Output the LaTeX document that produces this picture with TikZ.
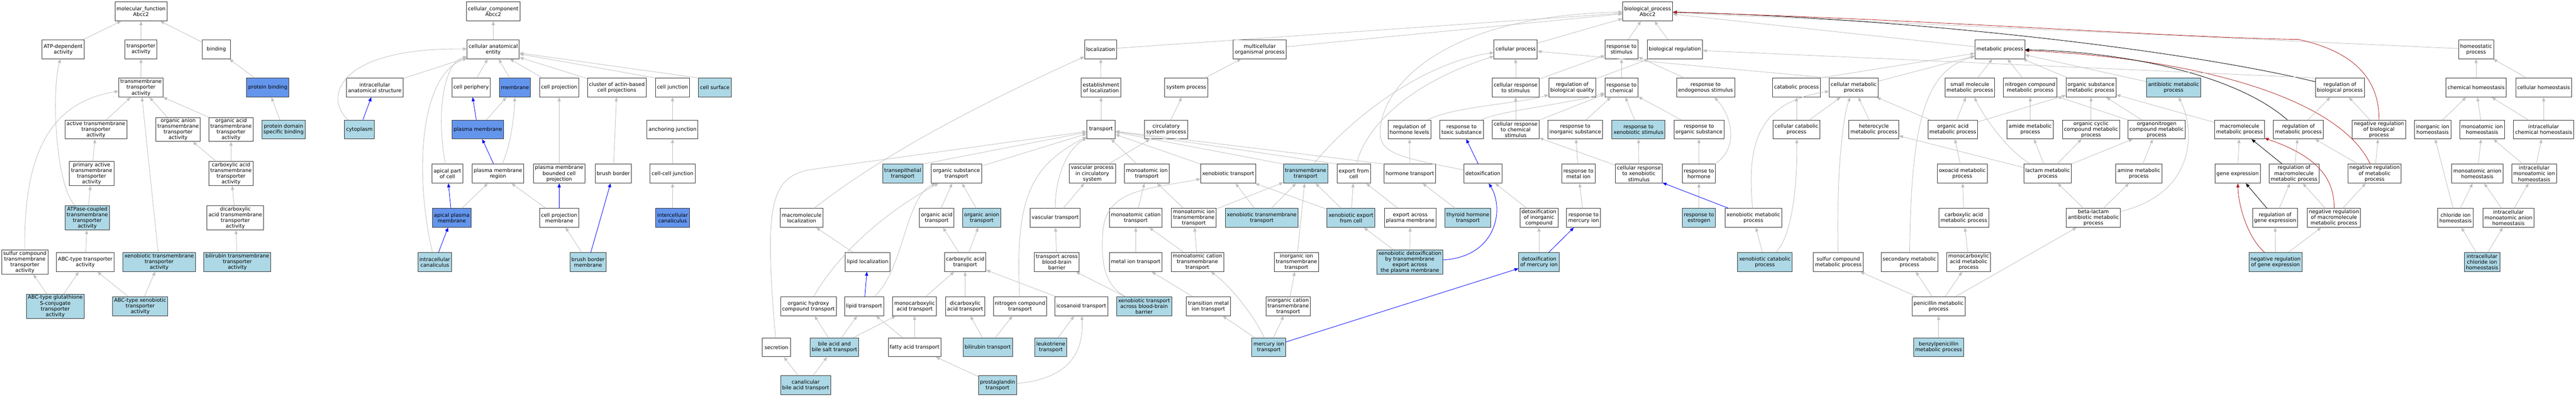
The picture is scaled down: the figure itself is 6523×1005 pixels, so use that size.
\documentclass[tikz,border=0pt]{standalone}
\usepackage{fontspec}
\setmainfont{DejaVu Sans}
\usepackage{xcolor}
\usepackage{tikz}
\usetikzlibrary{arrows.meta}
\definecolor{HitBlue}{HTML}{ADD8E6}
\definecolor{CornBlue}{HTML}{6495ED}
\definecolor{EdgeGray}{HTML}{C0C0C0}
\definecolor{FireRed}{HTML}{B22222}

\begin{document}
\begin{tikzpicture}
  [
    x=1pt, y=-1pt,
    >={Triangle[length=10pt, width=8pt]},
    Term/.style={rectangle, draw=black!80, fill=white, line width=1.2pt, minimum width=72pt, minimum height=48pt, inner xsep=4pt, inner ysep=2.5pt, align=center, font=\fontsize{13}{14.5}\selectfont},
    Hit/.style={Term, fill=HitBlue},
    Strong/.style={Term, fill=CornBlue},
    IsA/.style={->, draw=EdgeGray, line width=1.1pt},
    PartOf/.style={->, draw=blue, line width=1.1pt},
    Reg/.style={->, draw=black, line width=1.1pt},
    NegReg/.style={->, draw=FireRed, line width=1.1pt}
  ]
  \path[use as bounding box, fill=white] (0,0) rectangle (6523,1005);
  % Nodes: molecular function
  \node[Term] (mf) at (357,29) {molecular\_function\\Abcc2};
  \node[Term] (atpdep) at (160,125) {ATP-dependent\\activity};
  \node[Term] (transact) at (357,125) {transporter\\activity};
  \node[Term] (binding) at (548,125) {binding};
  \node[Term] (tmtrans) at (357,222) {transmembrane\\transporter\\activity};
  \node[Strong] (protbind) at (678,222) {protein binding};
  \node[Term] (activetm) at (243,328) {active transmembrane\\transporter\\activity};
  \node[Term] (organion) at (451,328) {organic anion\\transmembrane\\transporter\\activity};
  \node[Term] (orgacid) at (585,328) {organic acid\\transmembrane\\transporter\\activity};
  \node[Hit] (protdom) at (718,328) {protein domain\\specific binding};
  \node[Term] (primact) at (232,440) {primary active\\transmembrane\\transporter\\activity};
  \node[Term] (carbacid) at (585,440) {carboxylic acid\\transmembrane\\transporter\\activity};
  \node[Hit] (atpase) at (221,552) {ATPase-coupled\\transmembrane\\transporter\\activity};
  \node[Term] (dicarb) at (596,552) {dicarboxylic\\acid transmembrane\\transporter\\activity};
  \node[Term] (sulfurtm) at (63,664) {sulfur compound\\transmembrane\\transporter\\activity};
  \node[Term] (abctype) at (216,664) {ABC-type transporter\\activity};
  \node[Hit] (xenotm) at (403,664) {xenobiotic transmembrane\\transporter\\activity};
  \node[Hit] (bilitm) at (601,664) {bilirubin transmembrane\\transporter\\activity};
  \node[Hit] (abcglut) at (140,776) {ABC-type glutathione\\S-conjugate\\transporter\\activity};
  \node[Hit] (abcxeno) at (355,776) {ABC-type xenobiotic\\transporter\\activity};
  % Nodes: cellular component
  \node[Term] (cc) at (1249,29) {cellular\_component\\Abcc2};
  \node[Term] (cae) at (1249,125) {cellular anatomical\\entity};
  \node[Term] (ias) at (949,222) {intracellular\\anatomical structure};
  \node[Term] (cellperiph) at (1193,222) {cell periphery};
  \node[Strong] (membrane) at (1304,222) {membrane};
  \node[Term] (cellproj) at (1416,222) {cell projection};
  \node[Term] (cluster) at (1562,222) {cluster of actin-based\\cell projections};
  \node[Term] (celljunc) at (1703,222) {cell junction};
  \node[Hit] (cellsurf) at (1810,222) {cell surface};
  \node[Hit] (cytoplasm) at (910,328) {cytoplasm};
  \node[Strong] (plasmamem) at (1210,328) {plasma membrane};
  \node[Term] (anchjunc) at (1703,328) {anchoring junction};
  \node[Term] (apicalpart) at (1133,440) {apical part\\of cell};
  \node[Term] (pmregion) at (1261,440) {plasma membrane\\region};
  \node[Term] (pmbcp) at (1416,440) {plasma membrane\\bounded cell\\projection};
  \node[Term] (brushborder) at (1553,440) {brush border};
  \node[Term] (ccjunc) at (1703,440) {cell-cell junction};
  \node[Strong] (apicalpm) at (1144,552) {apical plasma\\membrane};
  \node[Term] (cpmem) at (1416,552) {cell projection\\membrane};
  \node[Strong] (intercan) at (1703,552) {intercellular\\canaliculus};
  \node[Hit] (intracan) at (1101,664) {intracellular\\canaliculus};
  \node[Hit] (bbmem) at (1489,664) {brush border\\membrane};
  % Nodes: biological process, rows 1-2
  \node[Term] (bp) at (4172,29) {biological\_process\\Abcc2};
  \node[Term] (localization) at (2787,125) {localization};
  \node[Term] (multicell) at (3190,125) {multicellular\\organismal process};
  \node[Term] (cellproc) at (3838,125) {cellular process};
  \node[Term] (respstim) at (4106,125) {response to\\stimulus};
  \node[Term] (bioreg) at (4241,125) {biological regulation};
  \node[Term] (metproc) at (5064,125) {metabolic process};
  \node[Term] (homeo) at (6270,125) {homeostatic\\process};
  \node[Term] (estloc) at (2788,222) {establishment\\of localization};
  \node[Term] (sysproc) at (3004,222) {system process};
  \node[Term] (cellrespstim) at (3838,222) {cellular response\\to stimulus};
  \node[Term] (regbioqual) at (3981,222) {regulation of\\biological quality};
  \node[Term] (respchem) at (4106,222) {response to\\chemical};
  \node[Term] (respendo) at (4319,222) {response to\\endogenous stimulus};
  \node[Term] (catab) at (4549,222) {catabolic process};
  \node[Term] (cellmet) at (4694,222) {cellular metabolic\\process};
  \node[Term] (smallmol) at (4988,222) {small molecule\\metabolic process};
  \node[Term] (nitrocmet) at (5141,222) {nitrogen compound\\metabolic process};
  \node[Term] (orgsubmet) at (5295,222) {organic substance\\metabolic process};
  \node[Hit] (antibmet) at (5504,222) {antibiotic metabolic\\process};
  \node[Term] (regbioproc) at (5925,222) {regulation of\\biological process};
  \node[Term] (chemhomeo) at (6270,222) {chemical homeostasis};
  \node[Term] (cellhomeo) at (6441,222) {cellular homeostasis};
  % Nodes: row 3
  \node[Term] (transport) at (2788,328) {transport};
  \node[Term] (circsys) at (2953,328) {circulatory\\system process};
  \node[Term] (reghormone) at (3569,328) {regulation of\\hormone levels};
  \node[Term] (resptoxic) at (3701,328) {response to\\toxic substance};
  \node[Term] (cellrespchem) at (3838,328) {cellular response\\to chemical\\stimulus};
  \node[Term] (respinorg) at (3989,328) {response to\\inorganic substance};
  \node[Hit] (respxeno) at (4149,328) {response to\\xenobiotic stimulus};
  \node[Term] (resporg) at (4302,328) {response to\\organic substance};
  \node[Term] (cellcatab) at (4549,328) {cellular catabolic\\process};
  \node[Term] (heterometh) at (4745,328) {heterocycle\\metabolic process};
  \node[Term] (orgacidmet) at (4945,328) {organic acid\\metabolic process};
  \node[Term] (amidemet) at (5141,328) {amide metabolic\\process};
  \node[Term] (orgcycmet) at (5295,328) {organic cyclic\\compound metabolic\\process};
  \node[Term] (organonit) at (5461,328) {organonitrogen\\compound metabolic\\process};
  \node[Term] (macromet) at (5671,328) {macromolecule\\metabolic process};
  \node[Term] (regmet) at (5820,328) {regulation of\\metabolic process};
  \node[Term] (negregbio) at (6024,328) {negative regulation\\of biological\\process};
  \node[Term] (inorghomeo) at (6160,328) {inorganic ion\\homeostasis};
  \node[Term] (monoionhomeo) at (6285,328) {monoatomic ion\\homeostasis};
  \node[Term] (intrachemhomeo) at (6441,328) {intracellular\\chemical homeostasis};
  % Nodes: row 4
  \node[Hit] (transepi) at (2286,440) {transepithelial\\transport};
  \node[Term] (orgsubtr) at (2422,440) {organic substance\\transport};
  \node[Term] (vascproc) at (2766,440) {vascular process\\in circulatory\\system};
  \node[Term] (monoiontr) at (2904,440) {monoatomic ion\\transport};
  \node[Term] (xenotr) at (3110,440) {xenobiotic transport};
  \node[Hit] (tmtransport) at (3306,440) {transmembrane\\transport};
  \node[Term] (exportcell) at (3428,440) {export from\\cell};
  \node[Term] (hormonetr) at (3570,440) {hormone transport};
  \node[Term] (detox) at (3755,440) {detoxification};
  \node[Term] (respmetal) at (3997,440) {response to\\metal ion};
  \node[Term] (cellrespxeno) at (4150,440) {cellular response\\to xenobiotic\\stimulus};
  \node[Term] (resphormone) at (4302,440) {response to\\hormone};
  \node[Term] (oxoacid) at (4969,440) {oxoacid metabolic\\process};
  \node[Term] (lactam) at (5185,440) {lactam metabolic\\process};
  \node[Term] (aminemet) at (5416,440) {amine metabolic\\process};
  \node[Term] (geneexp) at (5666,440) {gene expression};
  \node[Term] (regmacro) at (5809,440) {regulation of\\macromolecule\\metabolic process};
  \node[Term] (negregmet) at (6013,440) {negative regulation\\of metabolic\\process};
  \node[Term] (monoanhomeo) at (6273,440) {monoatomic anion\\homeostasis};
  \node[Term] (intramonoion) at (6417,440) {intracellular\\monoatomic ion\\homeostasis};
  % Nodes: row 5
  \node[Term] (macroloc) at (2030,552) {macromolecule\\localization};
  \node[Term] (orgacidtr) at (2372,552) {organic acid\\transport};
  \node[Hit] (organiontr) at (2486,552) {organic anion\\transport};
  \node[Term] (vasctr) at (2672,552) {vascular transport};
  \node[Term] (monocattr) at (2876,552) {monoatomic cation\\transport};
  \node[Term] (monoiontm) at (3023,552) {monoatomic ion\\transmembrane\\transport};
  \node[Hit] (xenotmtr) at (3195,552) {xenobiotic transmembrane\\transport};
  \node[Hit] (xenoexport) at (3421,552) {xenobiotic export\\from cell};
  \node[Term] (exportpm) at (3571,552) {export across\\plasma membrane};
  \node[Hit] (thyroid) at (3717,552) {thyroid hormone\\transport};
  \node[Term] (detoxinorg) at (3897,552) {detoxification\\of inorganic\\compound};
  \node[Term] (respmercury) at (4010,552) {response to\\mercury ion};
  \node[Hit] (respestrogen) at (4302,552) {response to\\estrogen};
  \node[Term] (xenomet) at (4440,552) {xenobiotic metabolic\\process};
  \node[Term] (carbacidmet) at (4973,552) {carboxylic acid\\metabolic process};
  \node[Term] (betalactam) at (5301,552) {beta-lactam\\antibiotic metabolic\\process};
  \node[Term] (reggene) at (5761,552) {regulation of\\gene expression};
  \node[Term] (negregmacro) at (5910,552) {negative regulation\\of macromolecule\\metabolic process};
  \node[Term] (chloride) at (6218,552) {chloride ion\\homeostasis};
  \node[Term] (intramonoan) at (6352,552) {intracellular\\monoatomic anion\\homeostasis};
  % Nodes: row 6
  \node[Term] (lipidloc) at (2197,664) {lipid localization};
  \node[Term] (carbacidtr) at (2444,664) {carboxylic acid\\transport};
  \node[Term] (bbbtr) at (2676,664) {transport across\\blood-brain\\barrier};
  \node[Term] (metaliontr) at (2876,664) {metal ion transport};
  \node[Term] (monocattm) at (3032,664) {monoatomic cation\\transmembrane\\transport};
  \node[Term] (inorgiontm) at (3283,664) {inorganic ion\\transmembrane\\transport};
  \node[Hit] (xenodetox) at (3570,664) {xenobiotic detoxification\\by transmembrane\\export across\\the plasma membrane};
  \node[Hit] (detoxmercury) at (3897,664) {detoxification\\of mercury ion};
  \node[Hit] (xenocatab) at (4469,664) {xenobiotic catabolic\\process};
  \node[Term] (sulfurmet) at (4655,664) {sulfur compound\\metabolic process};
  \node[Term] (secondmet) at (4835,664) {secondary metabolic\\process};
  \node[Term] (monocarbmet) at (4985,664) {monocarboxylic\\acid metabolic\\process};
  \node[Hit] (negreggene) at (5762,664) {negative regulation\\of gene expression};
  \node[Hit] (intrachloride) at (6285,664) {intracellular\\chloride ion\\homeostasis};
  % Nodes: rows 7-9
  \node[Term] (orghydroxy) at (2047,776) {organic hydroxy\\compound transport};
  \node[Term] (lipidtr) at (2188,776) {lipid transport};
  \node[Term] (monocarbtr) at (2316,776) {monocarboxylic\\acid transport};
  \node[Term] (dicarbtr) at (2444,776) {dicarboxylic\\acid transport};
  \node[Term] (nitrocomptr) at (2583,776) {nitrogen compound\\transport};
  \node[Term] (icosanoid) at (2738,776) {icosanoid transport};
  \node[Hit] (xenobbb) at (2897,776) {xenobiotic transport\\across blood-brain\\barrier};
  \node[Term] (transmetal) at (3060,776) {transition metal\\ion transport};
  \node[Term] (inorgcattm) at (3262,776) {inorganic cation\\transmembrane\\transport};
  \node[Term] (penicillin) at (4909,776) {penicillin metabolic\\process};
  \node[Term] (secretion) at (1966,880) {secretion};
  \node[Hit] (bileacid) at (2113,880) {bile acid and\\bile salt transport};
  \node[Term] (fattyacid) at (2316,880) {fatty acid transport};
  \node[Hit] (bilirubintr) at (2501,880) {bilirubin transport};
  \node[Hit] (leukotriene) at (2661,880) {leukotriene\\transport};
  \node[Hit] (mercurytr) at (3213,880) {mercury ion\\transport};
  \node[Hit] (benzylpen) at (4909,880) {benzylpenicillin\\metabolic process};
  \node[Hit] (canalicular) at (2040,976) {canalicular\\bile acid transport};
  \node[Hit] (prostaglandin) at (2526,976) {prostaglandin\\transport};
  % Lines: molecular function
  \path[IsA] (atpdep) -- (mf);
  \path[IsA] (transact) -- (mf);
  \path[IsA] (binding) -- (mf);
  \path[IsA] (tmtrans) -- (transact);
  \path[IsA] (activetm) -- (tmtrans);
  \path[IsA] (organion) -- (tmtrans);
  \path[IsA] (orgacid.north west) -- (tmtrans);
  \path[IsA] (xenotm) -- (tmtrans);
  \path[IsA] (sulfurtm) .. controls (60,400) and (120,260) .. (tmtrans);
  \path[IsA] (primact) -- (activetm);
  \path[IsA] (atpase) -- (primact);
  \path[IsA] (atpase) .. controls (140,470) and (130,230) .. (atpdep);
  \path[IsA] (abctype) -- (atpase);
  \path[IsA] (carbacid) -- (organion);
  \path[IsA] (carbacid) -- (orgacid);
  \path[IsA] (dicarb) -- (carbacid);
  \path[IsA] (bilitm) -- (dicarb);
  \path[IsA] (abcglut) -- (sulfurtm);
  \path[IsA] (abcglut) -- (abctype);
  \path[IsA] (abcxeno) -- (abctype);
  \path[IsA] (abcxeno) -- (xenotm);
  \path[IsA] (protbind) -- (binding);
  \path[IsA] (protdom) -- (protbind);
  % Lines: cellular component
  \path[IsA] (cae) -- (cc);
  \path[IsA] (ias) -- (cae);
  \path[PartOf] (cytoplasm) -- (ias);
  \path[IsA] (cytoplasm) .. controls (820,250) and (850,120) .. (cae);
  \path[IsA] (intracan) .. controls (1050,450) and (1060,190) .. (cae);
  \path[PartOf] (intracan) -- (apicalpm);
  \path[IsA] (cellperiph) -- (cae);
  \path[IsA] (membrane) -- (cae);
  \path[IsA] (cellproj) -- (cae);
  \path[IsA] (cluster) -- (cae);
  \path[IsA] (celljunc.north west) -- (cae);
  \path[IsA] (cellsurf.north west) -- (cae);
  \path[PartOf] (plasmamem) -- (cellperiph);
  \path[IsA] (plasmamem) -- (membrane);
  \path[PartOf] (pmregion) -- (plasmamem);
  \path[IsA] (pmregion) .. controls (1292,370) and (1302,300) .. (membrane);
  \path[IsA] (apicalpart) .. controls (1105,300) and (1120,160) .. (cae);
  \path[PartOf] (apicalpm) -- (apicalpart);
  \path[IsA] (apicalpm) -- (pmregion);
  \path[IsA] (pmbcp) -- (cellproj);
  \path[PartOf] (cpmem) -- (pmbcp);
  \path[IsA] (cpmem) -- (pmregion);
  \path[IsA] (brushborder) -- (cluster);
  \path[IsA] (bbmem) -- (cpmem);
  \path[PartOf] (bbmem) -- (brushborder);
  \path[IsA] (anchjunc) -- (celljunc);
  \path[IsA] (ccjunc) -- (anchjunc);
  \path[IsA] (intercan) -- (ccjunc);
  % Lines: biological process
  \path[IsA] (localization) -- (bp);
  \path[IsA] (multicell) -- (bp);
  \path[IsA] (cellproc) -- (bp);
  \path[IsA] (respstim) -- (bp);
  \path[IsA] (bioreg) -- (bp);
  \path[IsA] (metproc) -- (bp);
  \path[IsA] (homeo) -- (bp);
  \path[Reg] (regbioproc) .. controls (5500,120) and (4800,45) .. (bp);
  \path[NegReg] (negregbio) .. controls (6025,200) and (5960,130) .. (5820,100) .. controls (5500,95) and (4900,50) .. (bp);
  \path[IsA] (detox) .. controls (3550,400) and (3490,390) .. (3495,330) .. controls (3500,220) and (3650,40) .. (bp);
  \path[IsA] (estloc) -- (localization);
  \path[IsA] (transport) -- (estloc);
  \path[IsA] (macroloc) .. controls (2200,420) and (2400,300) .. (localization);
  \path[IsA] (lipidloc) -- (macroloc);
  \path[PartOf] (lipidtr) -- (lipidloc);
  \path[IsA] (secretion) .. controls (1935,520) and (1950,450) .. (2050,430) -- (transport);
  \path[IsA] (transepi.north east) -- (transport);
  \path[IsA] (orgsubtr) -- (transport);
  \path[IsA] (nitrocomptr) .. controls (2570,500) and (2610,420) .. (transport);
  \path[IsA] (vasctr) .. controls (2672,450) and (2700,380) .. (transport);
  \path[IsA] (monoiontr) -- (transport);
  \path[IsA] (xenotr) -- (transport);
  \path[IsA] (tmtransport.north west) -- (transport);
  \path[IsA] (exportcell.north west) -- (transport);
  \path[IsA] (hormonetr.north west) -- (transport);
  \path[IsA] (orghydroxy) .. controls (2100,680) and (2200,560) .. (orgsubtr);
  \path[IsA] (lipidtr) .. controls (2290,680) and (2292,500) .. (orgsubtr);
  \path[IsA] (canalicular) -- (secretion);
  \path[IsA] (canalicular) -- (bileacid);
  \path[IsA] (bileacid) -- (orghydroxy);
  \path[IsA] (bileacid) -- (lipidtr);
  \path[IsA] (bileacid) -- (monocarbtr);
  \path[IsA] (fattyacid) -- (lipidtr);
  \path[IsA] (fattyacid) -- (monocarbtr);
  \path[IsA] (orgacidtr) -- (orgsubtr);
  \path[IsA] (organiontr) -- (orgsubtr);
  \path[IsA] (carbacidtr) -- (orgacidtr);
  \path[IsA] (carbacidtr) -- (organiontr);
  \path[IsA] (monocarbtr) -- (carbacidtr);
  \path[IsA] (dicarbtr) -- (carbacidtr);
  \path[IsA] (icosanoid) -- (carbacidtr);
  \path[IsA] (bilirubintr) -- (dicarbtr);
  \path[IsA] (bilirubintr) -- (nitrocomptr);
  \path[IsA] (leukotriene) -- (icosanoid);
  \path[IsA] (prostaglandin) -- (fattyacid);
  \path[IsA] (prostaglandin) .. controls (2700,960) and (2745,900) .. (icosanoid);
  \path[IsA] (bbbtr) -- (vasctr);
  \path[IsA] (vasctr) -- (vascproc);
  \path[IsA] (vascproc) -- (circsys);
  \path[IsA] (circsys) -- (sysproc);
  \path[IsA] (sysproc) -- (multicell);
  \path[IsA] (xenobbb) -- (bbbtr);
  \path[IsA] (xenobbb) .. controls (2790,720) and (2790,650) .. (2792,600) .. controls (2793,480) and (2900,480) .. (xenotr);
  \path[IsA] (monocattr) -- (monoiontr);
  \path[IsA] (metaliontr) -- (monocattr);
  \path[IsA] (transmetal) -- (metaliontr);
  \path[IsA] (monoiontm) -- (monoiontr);
  \path[IsA] (monoiontm) -- (tmtransport);
  \path[IsA] (xenotmtr) -- (xenotr);
  \path[IsA] (xenotmtr) -- (tmtransport);
  \path[IsA] (xenoexport) -- (xenotr);
  \path[IsA] (xenoexport) -- (tmtransport);
  \path[IsA] (xenoexport) -- (exportcell);
  \path[IsA] (monocattm) -- (monocattr);
  \path[IsA] (monocattm) -- (monoiontm);
  \path[IsA] (mercurytr) -- (transmetal);
  \path[IsA] (mercurytr) .. controls (3170,790) and (3110,720) .. (monocattm);
  \path[IsA] (mercurytr) -- (inorgcattm);
  \path[PartOf] (mercurytr) -- (detoxmercury);
  \path[IsA] (inorgcattm) -- (inorgiontm);
  \path[IsA] (inorgiontm) -- (tmtransport);
  \path[IsA] (xenodetox) -- (xenoexport);
  \path[IsA] (xenodetox) -- (exportpm);
  \path[PartOf] (xenodetox) .. controls (3790,650) and (3810,530) .. (detox);
  \path[IsA] (exportpm) -- (exportcell);
  \path[IsA] (tmtransport) .. controls (3420,300) and (3600,160) .. (cellproc);
  \path[IsA] (exportcell) .. controls (3465,300) and (3600,200) .. (cellproc);
  \path[IsA] (hormonetr) -- (reghormone);
  \path[IsA] (thyroid) -- (hormonetr);
  \path[IsA] (reghormone) .. controls (3680,270) and (3850,262) .. (regbioqual);
  \path[IsA] (regbioqual) -- (bioreg);
  \path[PartOf] (detox) -- (resptoxic);
  \path[IsA] (resptoxic) .. controls (3800,280) and (3980,262) .. (respchem);
  \path[IsA] (detoxinorg) -- (detox);
  \path[IsA] (detoxmercury) -- (detoxinorg);
  \path[PartOf] (detoxmercury) -- (respmercury);
  \path[IsA] (respmercury) -- (respmetal);
  \path[IsA] (respmetal) -- (respinorg);
  \path[IsA] (respinorg) -- (respchem);
  \path[IsA] (cellrespstim) -- (cellproc);
  \path[IsA] (cellrespstim) -- (respstim);
  \path[IsA] (cellrespchem) -- (cellrespstim);
  \path[IsA] (cellrespchem) -- (respchem);
  \path[IsA] (cellrespxeno) -- (cellrespchem);
  \path[IsA] (cellrespxeno) -- (respxeno);
  \path[IsA] (respxeno) -- (respchem);
  \path[IsA] (respchem) -- (respstim);
  \path[IsA] (resporg) -- (respchem);
  \path[IsA] (respendo) -- (respstim);
  \path[IsA] (resphormone) -- (resporg);
  \path[IsA] (resphormone) .. controls (4400,380) and (4390,300) .. (respendo);
  \path[IsA] (respestrogen) -- (resphormone);
  \path[PartOf] (xenomet) -- (cellrespxeno);
  \path[IsA] (xenomet) .. controls (4425,380) and (4440,260) .. (cellmet);
  \path[IsA] (xenocatab) -- (xenomet);
  \path[IsA] (xenocatab) .. controls (4540,600) and (4552,450) .. (cellcatab);
  \path[IsA] (cellcatab) -- (catab);
  \path[IsA] (cellcatab) -- (cellmet);
  \path[IsA] (catab.north east) -- (metproc);
  \path[IsA] (cellmet) -- (metproc);
  \path[IsA] (cellmet.north west) -- (cellproc);
  \path[IsA] (sulfurmet) .. controls (4650,450) and (4665,300) .. (cellmet);
  \path[IsA] (secondmet) .. controls (4840,320) and (4870,180) .. (metproc);
  \path[IsA] (smallmol) -- (metproc);
  \path[IsA] (nitrocmet) -- (metproc);
  \path[IsA] (orgsubmet) -- (metproc);
  \path[IsA] (antibmet) -- (metproc);
  \path[IsA] (heterometh) -- (cellmet);
  \path[IsA] (orgacidmet) -- (cellmet);
  \path[IsA] (orgacidmet) -- (smallmol);
  \path[IsA] (orgacidmet) -- (orgsubmet);
  \path[IsA] (amidemet) -- (nitrocmet);
  \path[IsA] (orgcycmet) -- (orgsubmet);
  \path[IsA] (organonit) -- (nitrocmet);
  \path[IsA] (organonit) -- (orgsubmet);
  \path[IsA] (oxoacid) -- (orgacidmet);
  \path[IsA] (lactam) -- (heterometh);
  \path[IsA] (lactam) .. controls (5080,380) and (5020,290) .. (smallmol);
  \path[IsA] (lactam) -- (amidemet);
  \path[IsA] (lactam) -- (orgcycmet);
  \path[IsA] (lactam) -- (organonit);
  \path[IsA] (carbacidmet) -- (oxoacid);
  \path[IsA] (betalactam) -- (lactam);
  \path[IsA] (betalactam) .. controls (5560,490) and (5560,330) .. (antibmet);
  \path[IsA] (betalactam) -- (aminemet);
  \path[IsA] (aminemet) -- (organonit);
  \path[IsA] (monocarbmet) -- (carbacidmet);
  \path[IsA] (penicillin) -- (sulfurmet);
  \path[IsA] (penicillin) -- (secondmet);
  \path[IsA] (penicillin) -- (monocarbmet);
  \path[IsA] (penicillin) -- (betalactam);
  \path[IsA] (benzylpen) -- (penicillin);
  \path[IsA] (macromet) -- (orgsubmet);
  \path[IsA] (geneexp) -- (macromet);
  \path[Reg] (regmacro) -- (macromet);
  \path[IsA] (regmacro) -- (regmet);
  \path[Reg] (reggene) -- (geneexp);
  \path[IsA] (reggene) -- (regmacro);
  \path[IsA] (negreggene) -- (reggene);
  \path[IsA] (negreggene) -- (negregmacro);
  \path[NegReg] (negreggene) .. controls (5690,600) and (5668,520) .. (geneexp);
  \path[IsA] (negregmacro) -- (negregmet);
  \path[IsA] (negregmacro) -- (regmacro);
  \path[NegReg] (negregmacro) .. controls (5912,440) and (5850,390) .. (macromet);
  \path[IsA] (negregmet) -- (negregbio);
  \path[IsA] (negregmet) -- (regmet);
  \path[NegReg] (negregmet) .. controls (5930,260) and (5600,150) .. (metproc);
  \path[IsA] (negregbio) -- (regbioproc);
  \path[IsA] (regmet) -- (regbioproc);
  \path[Reg] (regmet) .. controls (5650,180) and (5350,130) .. (metproc);
  \path[IsA] (regbioproc.north west) -- (bioreg);
  \path[IsA] (chemhomeo) -- (homeo);
  \path[IsA] (cellhomeo) -- (homeo);
  \path[IsA] (inorghomeo) -- (chemhomeo);
  \path[IsA] (monoionhomeo) -- (chemhomeo);
  \path[IsA] (intrachemhomeo) -- (chemhomeo);
  \path[IsA] (intrachemhomeo) -- (cellhomeo);
  \path[IsA] (monoanhomeo) -- (monoionhomeo);
  \path[IsA] (intramonoion) -- (monoionhomeo);
  \path[IsA] (intramonoion) -- (intrachemhomeo);
  \path[IsA] (chloride) -- (inorghomeo);
  \path[IsA] (chloride) -- (monoanhomeo);
  \path[IsA] (intramonoan) -- (monoanhomeo);
  \path[IsA] (intramonoan) -- (intramonoion);
  \path[IsA] (intrachloride) -- (chloride);
  \path[IsA] (intrachloride) -- (intramonoan);
\end{tikzpicture}
\end{document}
